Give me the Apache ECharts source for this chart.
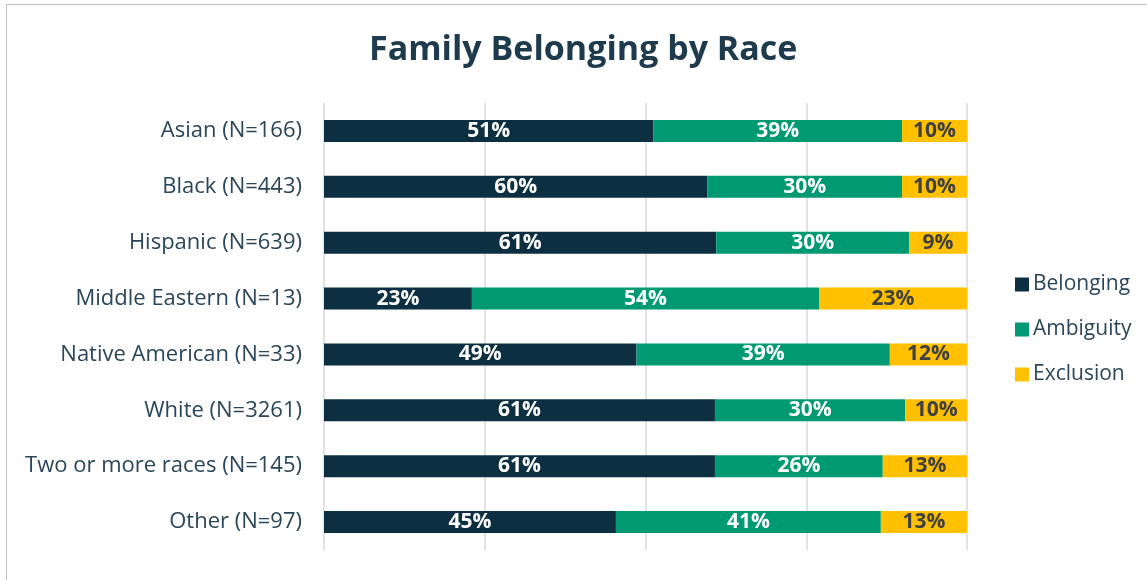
<!DOCTYPE html>
<html>
<head>
<meta charset="utf-8">
<script src="https://cdn.jsdelivr.net/npm/echarts@6/dist/echarts.min.js"></script>
<style>
  html, body { margin: 0; padding: 0; background: #fff; }
  #frame { position: absolute; left: 6px; top: 4px; width: 1200px; height: 640px; border: 1px solid #bfbfbf; box-sizing: border-box; }
  #main { width: 1147px; height: 580px; }
</style>
</head>
<body>
<div id="frame"></div>
<div id="main"></div>
<script>
const categories = [
  "Asian (N=166)",
  "Black (N=443)",
  "Hispanic (N=639)",
  "Middle Eastern (N=13)",
  "Native American (N=33)",
  "White (N=3261)",
  "Two or more races (N=145)",
  "Other (N=97)"
];
const belonging = [51.2, 59.6, 61.0, 23.0, 48.6, 60.8, 60.8, 45.4];
const ambiguity = [38.7, 30.3, 30.0, 54.0, 39.4, 29.6, 26.1, 41.2];
const exclusion = [10.1, 10.1, 9.0, 23.0, 12.0, 9.6, 13.1, 13.4];

const fontFamily = "'Open Sans', 'Noto Sans', sans-serif";
const chartDom = document.getElementById("main");
const myChart = echarts.init(chartDom);

function makeSeries(name, data, color, labelColor) {
  return {
    name: name,
    type: "bar",
    stack: "total",
    data: data,
    barWidth: 22,
    itemStyle: { color: color },
    label: {
      show: true,
      position: "inside",
      color: labelColor,
      fontWeight: "bold",
      fontSize: 21,
      fontFamily: fontFamily,
      formatter: (p) => Math.round(p.value) + "%",
    },
  };
}

const option = {
  animation: false,
  title: {
    text: "Family Belonging by Race",
    left: 364,
    top: 28,
    textStyle: { color: "#1e3b4d", fontSize: 34, fontWeight: "bold", fontFamily: fontFamily },
  },
  legend: {
    orient: "vertical",
    left: 1010,
    top: 269,
    itemWidth: 14,
    itemHeight: 14,
    itemGap: 24,
    icon: "rect",
    textStyle: { color: "#2a4658", fontSize: 21, fontFamily: fontFamily, padding: [0, 0, 0, -1] },
    data: ["Belonging", "Ambiguity", "Exclusion"],
  },
  grid: { left: 324, right: 180, top: 103, height: 447 },
  xAxis: {
    type: "value",
    min: 0,
    max: 100,
    interval: 25,
    axisLabel: { show: false },
    axisLine: { show: false },
    axisTick: { show: false },
    splitLine: { show: true, lineStyle: { color: "#d9d9d9", width: 1.5 } },
  },
  yAxis: {
    type: "category",
    inverse: true,
    data: categories,
    axisLine: { show: false },
    axisTick: { show: false },
    axisLabel: { color: "#2a4658", fontSize: 22, fontFamily: fontFamily, margin: 22 },
  },
  series: [
    makeSeries("Belonging", belonging, "#0d2f42", "#ffffff"),
    makeSeries("Ambiguity", ambiguity, "#009a72", "#ffffff"),
    makeSeries("Exclusion", exclusion, "#ffc000", "#404040"),
  ],
};

myChart.setOption(option);
window.addEventListener("resize", () => myChart.resize());
</script>
</body>
</html>
